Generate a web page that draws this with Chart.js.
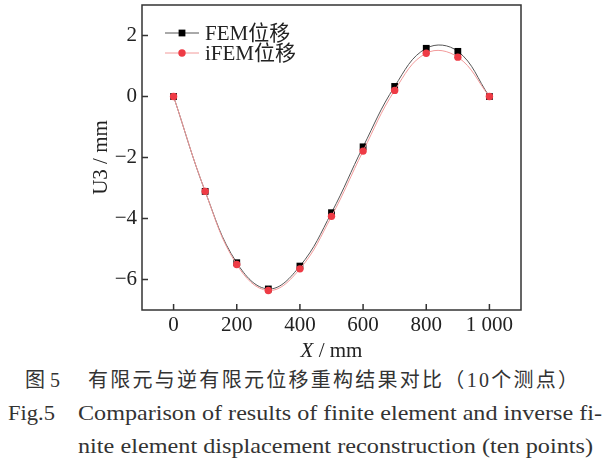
<!DOCTYPE html>
<html>
<head>
<meta charset="utf-8">
<script src="https://cdn.jsdelivr.net/npm/chart.js@4.4.1/dist/chart.umd.min.js"></script>
<style>
  html, body { margin: 0; padding: 0; background: #fff; }
  #wrap { position: relative; width: 609px; height: 473px; overflow: hidden; }
  canvas { position: absolute; left: 0; top: 0; }
  .cap { position: absolute; white-space: nowrap; font-family: "Liberation Serif", "Noto Sans CJK SC", serif;
         color: #333; line-height: 26px; transform-origin: 0 50%; }
</style>
</head>
<body>
<div id="wrap">
  <canvas id="c" width="609" height="365"></canvas>
  <div class="cap" data-fs="20" data-l="25" data-r="60" data-b="387" data-fit="space">图5</div>
  <div class="cap" data-fs="20" data-l="88" data-r="578" data-b="387" data-fit="space">有限元与逆有限元位移重构结果对比（10个测点）</div>
  <div class="cap" data-fs="21" data-l="8" data-r="55" data-b="420">Fig.5</div>
  <div class="cap" data-fs="22" data-l="78" data-r="602" data-b="420">Comparison of results of finite element and inverse fi-</div>
  <div class="cap" data-fs="22" data-l="78" data-r="593" data-b="453">nite element displacement reconstruction (ten points)</div>
</div>
<script>
  var positions = [0, 100, 200, 300, 400, 500, 600, 700, 800, 900, 1000];
  var femU3 = [0, -3.11, -5.45, -6.31, -5.56, -3.81, -1.65, 0.33, 1.58, 1.48, 0];
  var ifemU3 = [0, -3.11, -5.51, -6.36, -5.65, -3.93, -1.79, 0.20, 1.42, 1.29, 0];
  var seriesNames = ['FEM位移', 'iFEM位移'];
  var xTicks = [0, 200, 400, 600, 800, 1000];
  var xTickLabels = ['0', '200', '400', '600', '800', '1 000'];
  var yTicks = [-6, -4, -2, 0, 2];
  var yTickLabels = ['−6', '−4', '−2', '0', '2'];

  var serif = '"Liberation Serif", "Noto Sans CJK SC", serif';
  Chart.defaults.font.family = serif;
  Chart.defaults.font.size = 21;
  Chart.defaults.color = '#222';

  function toPoints(ys) {
    return positions.map(function (x, i) { return { x: x, y: ys[i] }; });
  }

  // frame round the plot, inward ticks, italic X axis title
  var frameTicks = {
    id: 'frameTicks',
    afterDatasetsDraw: function (chart) {
      var ctx = chart.ctx, a = chart.chartArea;
      var xs = chart.scales.x, ys = chart.scales.y;
      ctx.save();
      ctx.strokeStyle = '#333';
      ctx.lineWidth = 1.5;
      ctx.strokeRect(a.left, a.top, a.right - a.left, a.bottom - a.top);
      ctx.beginPath();
      xTicks.forEach(function (v) {
        var px = xs.getPixelForValue(v);
        ctx.moveTo(px, a.bottom); ctx.lineTo(px, a.bottom - 6);
      });
      yTicks.forEach(function (v) {
        var py = ys.getPixelForValue(v);
        ctx.moveTo(a.left, py); ctx.lineTo(a.left + 6, py);
      });
      ctx.stroke();

      ctx.fillStyle = '#222';
      ctx.textBaseline = 'alphabetic';
      ctx.font = 'italic 21px ' + serif;
      var w1 = ctx.measureText('X').width;
      ctx.font = '21px ' + serif;
      var w2 = ctx.measureText(' / mm').width;
      var x0 = (a.left + a.right) / 2 - (w1 + w2) / 2;
      var ty = 357;
      ctx.font = 'italic 21px ' + serif;
      ctx.fillText('X', x0, ty);
      ctx.font = '21px ' + serif;
      ctx.fillText(' / mm', x0 + w1, ty);
      ctx.restore();
    }
  };

  var legendBox = {
    id: 'legendBox',
    afterDraw: function (chart) {
      var ctx = chart.ctx, a = chart.chartArea;
      ctx.save();
      chart.data.datasets.forEach(function (ds, i) {
        var y = a.top + 28 + i * 20;
        var x0 = a.left + 23;
        ctx.strokeStyle = ds.borderColor;
        ctx.lineWidth = 1;
        ctx.beginPath(); ctx.moveTo(x0, y); ctx.lineTo(x0 + 34, y); ctx.stroke();
        ctx.fillStyle = ds.pointBackgroundColor;
        ctx.beginPath();
        if (ds.pointStyle === 'rect') {
          var s = ds.pointRadius * Math.SQRT1_2;
          ctx.rect(x0 + 17 - s, y - s, 2 * s, 2 * s);
        } else {
          ctx.arc(x0 + 17, y, ds.pointRadius, 0, Math.PI * 2);
        }
        ctx.fill();
        ctx.fillStyle = '#222';
        ctx.font = '21px ' + serif;
        ctx.textBaseline = 'middle';
        ctx.fillText(ds.label, x0 + 40, y + 1);
      });
      ctx.restore();
    }
  };

  var ctx = document.getElementById('c').getContext('2d');
  var chart = new Chart(ctx, {
    type: 'line',
    data: {
      datasets: [{
        label: seriesNames[0],
        data: toPoints(femU3),
        borderColor: '#555',
        borderWidth: 1,
        pointStyle: 'rect',
        pointRadius: 4.8,
        pointBackgroundColor: '#000',
        pointBorderWidth: 0,
        tension: 0.4,
        order: 2
      }, {
        label: seriesNames[1],
        data: toPoints(ifemU3),
        borderColor: '#f29a9a',
        borderWidth: 1,
        pointStyle: 'circle',
        pointRadius: 3.7,
        pointBackgroundColor: '#ee3b45',
        pointBorderWidth: 0,
        tension: 0.4,
        order: 1
      }]
    },
    options: {
      responsive: false,
      animation: false,
      devicePixelRatio: 1,
      layout: { padding: { top: 5, right: 88, left: 0, bottom: 0 } },
      plugins: { legend: { display: false }, tooltip: { enabled: false } },
      scales: {
        x: {
          type: 'linear',
          min: -100,
          max: 1100,
          grid: { display: false, drawTicks: false },
          border: { display: false },
          afterBuildTicks: function (s) { s.ticks = xTicks.map(function (v) { return { value: v }; }); },
          afterFit: function (s) { s.height = 55; s.paddingLeft = 0; s.paddingRight = 0; },
          ticks: {
            padding: 3,
            maxRotation: 0,
            callback: function (v) { return xTickLabels[xTicks.indexOf(v)]; }
          }
        },
        y: {
          min: -7,
          max: 3,
          grid: { display: false, drawTicks: false },
          border: { display: false },
          afterBuildTicks: function (s) { s.ticks = yTicks.map(function (v) { return { value: v }; }); },
          afterFit: function (s) { s.width = 142; s.paddingTop = 0; s.paddingBottom = 0; },
          ticks: {
            padding: 5,
            callback: function (v) { return yTickLabels[yTicks.indexOf(v)]; }
          },
          title: {
            display: true,
            text: 'U3 / mm',
            font: { size: 21 },
            padding: { top: 89, bottom: 0 }
          }
        }
      }
    },
    plugins: [frameTicks, legendBox]
  });

  // place caption lines on their baselines and stretch them to the widths in the figure
  document.querySelectorAll('.cap').forEach(function (el) {
    var fs = +el.dataset.fs, l = +el.dataset.l, r = +el.dataset.r, b = +el.dataset.b;
    el.style.fontSize = fs + 'px';
    el.style.left = l + 'px';
    el.style.top = (b - ((26 - 1.107 * fs) / 2 + 0.891 * fs)) + 'px';
    var w = el.getBoundingClientRect().width;
    if (el.dataset.fit === 'space') {
      var n = Array.from(el.textContent).length;
      el.style.letterSpacing = ((r - l - w) / (n - 1)) + 'px';
    } else {
      el.style.transform = 'scaleX(' + ((r - l) / w) + ')';
    }
  });
</script>
</body>
</html>
